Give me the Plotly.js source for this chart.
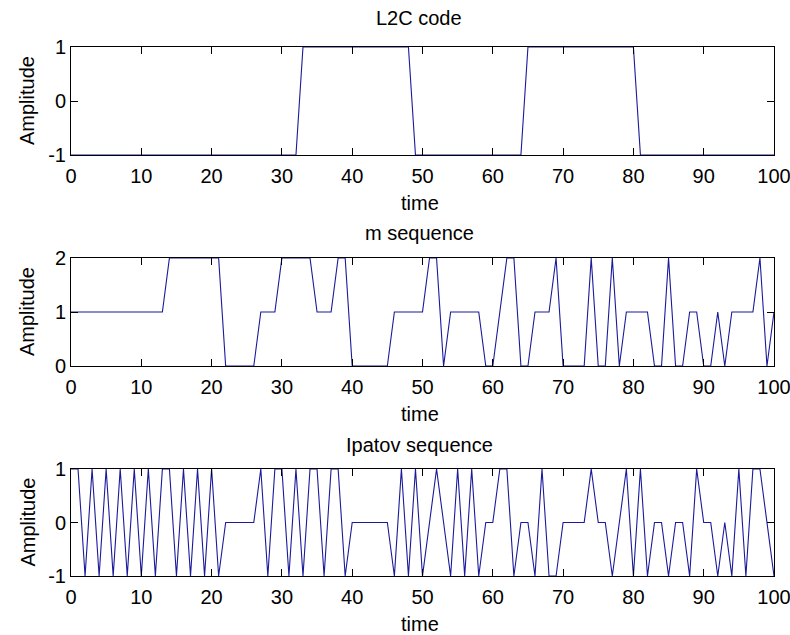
<!DOCTYPE html>
<html>
<head>
<meta charset="utf-8">
<script src="https://cdn.plot.ly/plotly-3.0.1.min.js"></script>
<style>html,body{margin:0;padding:0;background:#fff;}#chart{width:790px;height:635px;}</style>
</head>
<body>
<div id="chart"></div>
<script>
// ---- data (sampled at integer times 0..100) ----
const time = [0,1,2,3,4,5,6,7,8,9,10,11,12,13,14,15,16,17,18,19,20,21,22,23,24,25,26,27,28,29,30,31,32,33,34,35,36,37,38,39,40,41,42,43,44,45,46,47,48,49,50,51,52,53,54,55,56,57,58,59,60,61,62,63,64,65,66,67,68,69,70,71,72,73,74,75,76,77,78,79,80,81,82,83,84,85,86,87,88,89,90,91,92,93,94,95,96,97,98,99,100];

const l2cCode = [
  -1,-1,-1,-1,-1,-1,-1,-1,-1,-1,-1,-1,-1,-1,-1,-1,-1,-1,-1,-1,-1,-1,-1,-1,-1,-1,-1,-1,-1,-1,-1,-1,-1,
  1,1,1,1,1,1,1,1,1,1,1,1,1,1,1,1,
  -1,-1,-1,-1,-1,-1,-1,-1,-1,-1,-1,-1,-1,-1,-1,-1,
  1,1,1,1,1,1,1,1,1,1,1,1,1,1,1,1,
  -1,-1,-1,-1,-1,-1,-1,-1,-1,-1,-1,-1,-1,-1,-1,-1,-1,-1,-1,-1
];

const mSequence = [
  1,1,1,1,1,1,1,1,1,1,1,1,1,1,
  2,2,2,2,2,2,2,2,
  0,0,0,0,0,
  1,1,1,
  2,2,2,2,2,
  1,1,1,
  2,2,
  0,0,0,0,0,0,
  1,1,1,1,1,
  2,2,
  0,
  1,1,1,1,1,
  0,0,
  1,
  2,2,
  0,0,
  1,1,1,
  2,
  0,0,0,0,
  2,
  0,0,
  2,
  0,
  1,1,1,1,
  0,0,
  2,
  0,0,
  1,1,
  0,0,
  1,
  0,
  1,1,1,1,
  2,
  0,
  1
];

const ipatovSequence = [
  1,1,-1,1,-1,1,-1,1,-1,1,-1,1,-1,1,1,-1,1,-1,1,-1,1,-1,
  0,0,0,0,0,
  1,-1,1,1,-1,1,-1,1,1,-1,1,1,-1,
  0,0,0,0,0,0,
  -1,1,-1,1,-1,0,1,0,-1,1,-1,1,-1,0,0,1,1,-1,0,0,-1,1,-1,-1,
  0,0,0,0,
  1,0,0,-1,0,1,-1,1,-1,0,0,-1,0,0,-1,1,0,0,-1,0,-1,1,-1,1,1,0,-1
];

const titles = ["L2C code", "m sequence", "Ipatov sequence"];
const xTicks = [0,10,20,30,40,50,60,70,80,90,100];
const yTicks1 = [-1,0,1];
const yTicks2 = [0,1,2];
const yTicks3 = [-1,0,1];

// ---- styling ----
const FONT = '"Liberation Sans", Arial, sans-serif';
const LINE = '#1a1a9a';
const TXT = 20;

function trace(y, xa, ya) {
  return {x: time, y: y, xaxis: xa, yaxis: ya, type: 'scatter', mode: 'lines',
          line: {color: LINE, width: 1.1}, hoverinfo: 'skip'};
}

function axisBase() {
  return {showline: true, linecolor: '#000', linewidth: 1, mirror: 'ticks',
          ticks: 'inside', ticklen: 7, tickcolor: '#000', tickwidth: 1,
          showgrid: false, zeroline: false, fixedrange: true, layer: 'above traces',
          ticklabeloverflow: 'allow',
          tickfont: {family: FONT, size: 20, color: '#000'}};
}
function xa(anchor) {
  return Object.assign(axisBase(), {anchor: anchor, domain: [0, 1], range: [0, 100],
    tickmode: 'array', tickvals: xTicks, ticktext: xTicks.map(String), ticklabelstandoff: 3});
}
function ya(anchor, dom, rng, ticks) {
  return Object.assign(axisBase(), {anchor: anchor, domain: dom, range: rng,
    tickmode: 'array', tickvals: ticks, ticktext: ticks.map(String)});
}

const data = [
  trace(l2cCode, 'x', 'y'),
  trace(mSequence, 'x2', 'y2'),
  trace(ipatovSequence, 'x3', 'y3')
];

// plot area in pixels: x 71..774, y 47..576 (height 529)
const py = p => (576 - p) / 529;
const px = p => (p - 71) / 703;

const annots = [];
const titleY = [18, 233, 445];
const timeY = [203, 414, 624];
const ampY = [101, 312, 522.5];
for (let i = 0; i < 3; i++) {
  annots.push({text: titles[i], xref: 'paper', yref: 'paper', x: px(419), y: py(titleY[i]),
    xanchor: 'center', yanchor: 'middle', showarrow: false, font: {family: FONT, size: TXT, color: '#000'}});
  annots.push({text: 'time', xref: 'paper', yref: 'paper', x: px(420), y: py(timeY[i]),
    xanchor: 'center', yanchor: 'middle', showarrow: false, font: {family: FONT, size: TXT, color: '#000'}});
  annots.push({text: 'Amplitude', xref: 'paper', yref: 'paper', x: px(27), y: py(ampY[i]),
    xanchor: 'center', yanchor: 'middle', textangle: -90, showarrow: false, font: {family: FONT, size: TXT, color: '#000'}});
}

const layout = {
  width: 790, height: 635,
  paper_bgcolor: '#fff', plot_bgcolor: '#fff',
  margin: {l: 71, r: 16, t: 47, b: 59, pad: 0},
  showlegend: false,
  font: {family: FONT, size: 20, color: '#000'},
  xaxis: xa('y'),
  yaxis: ya('x', [py(155), 1], [-1, 1], yTicks1),
  xaxis2: xa('y2'),
  yaxis2: ya('x2', [py(366), py(258)], [0, 2], yTicks2),
  xaxis3: xa('y3'),
  yaxis3: ya('x3', [0, py(469)], [-1, 1], yTicks3),
  annotations: annots
};

Plotly.newPlot('chart', data, layout, {displayModeBar: false, staticPlot: true});
</script>
</body>
</html>
